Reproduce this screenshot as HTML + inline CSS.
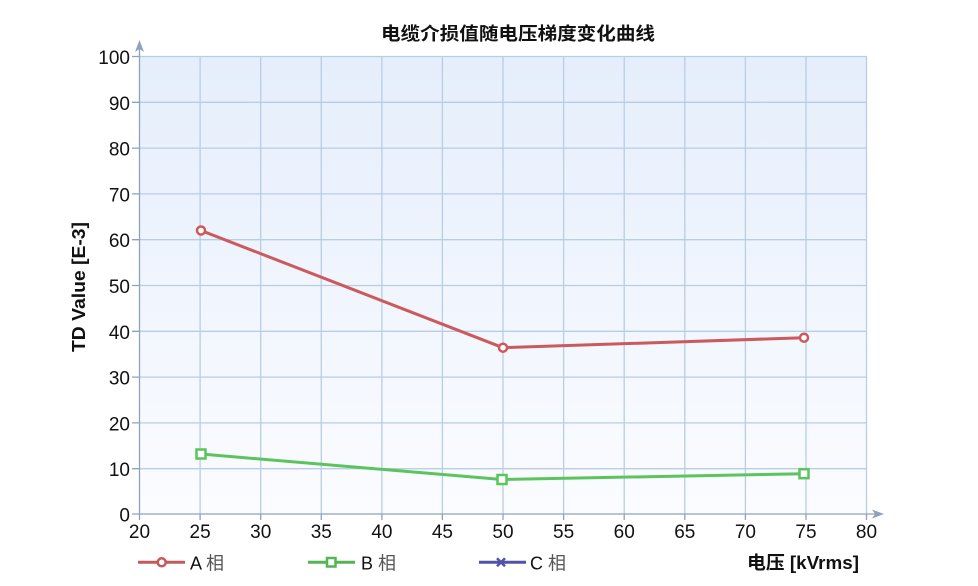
<!DOCTYPE html>
<html><head><meta charset="utf-8"><style>
html,body{margin:0;padding:0;background:#fff;}
svg{display:block;}
text{font-family:"Liberation Sans","Noto Sans CJK SC",sans-serif;}
</style></head><body>
<svg width="978" height="586" viewBox="0 0 978 586" xmlns="http://www.w3.org/2000/svg">
<defs>
<linearGradient id="bg" x1="0" y1="0" x2="0" y2="1">
<stop offset="0" stop-color="#e5eefc"/>
<stop offset="1" stop-color="#fbfcff"/>
</linearGradient>
</defs>
<rect x="139.5" y="56" width="727" height="458" fill="url(#bg)"/>
<g stroke="#b9cde3" stroke-width="1.3" fill="none">
<path d="M139.5 56.5H866.5M139.5 102.3H866.5M139.5 148.1H866.5M139.5 193.9H866.5M139.5 239.7H866.5M139.5 285.5H866.5M139.5 331.3H866.5M139.5 377.1H866.5M139.5 422.9H866.5M139.5 468.7H866.5"/>
<path d="M200.1 56V514M260.7 56V514M321.3 56V514M381.9 56V514M442.4 56V514M503 56V514M563.6 56V514M624.2 56V514M684.8 56V514M745.4 56V514M806 56V514M866.5 56V514"/>
</g>
<g stroke="#8ea3bb" stroke-width="1.3" fill="none">
<path d="M139.5 46V514M139.5 514H876"/>
<path d="M132 56.5H139.5M132 102.3H139.5M132 148.1H139.5M132 193.9H139.5M132 239.7H139.5M132 285.5H139.5M132 331.3H139.5M132 377.1H139.5M132 422.9H139.5M132 468.7H139.5M132 514H139.5"/>
<path d="M139.5 514V520M200.1 514V520M260.7 514V520M321.3 514V520M381.9 514V520M442.4 514V520M503 514V520M563.6 514V520M624.2 514V520M684.8 514V520M745.4 514V520M806 514V520M866.5 514V520"/>
</g>
<path d="M139.5 40L144 52L139.5 49L135 52Z" fill="#8ea3bb"/>
<path d="M884 514L872 509.5L875 514L872 518.5Z" fill="#8ea3bb"/>
<g font-size="19" fill="#111" text-anchor="end">
<text x="130" y="64">100</text>
<text x="130" y="109.8">90</text>
<text x="130" y="155.6">80</text>
<text x="130" y="201.4">70</text>
<text x="130" y="247.2">60</text>
<text x="130" y="293">50</text>
<text x="130" y="338.8">40</text>
<text x="130" y="384.6">30</text>
<text x="130" y="430.4">20</text>
<text x="130" y="476.2">10</text>
<text x="130" y="521.5">0</text>
</g>
<g font-size="19" fill="#111" text-anchor="middle">
<text x="139.5" y="538">20</text>
<text x="200.1" y="538">25</text>
<text x="260.7" y="538">30</text>
<text x="321.3" y="538">35</text>
<text x="381.9" y="538">40</text>
<text x="442.4" y="538">45</text>
<text x="503" y="538">50</text>
<text x="563.6" y="538">55</text>
<text x="624.2" y="538">60</text>
<text x="684.8" y="538">65</text>
<text x="745.4" y="538">70</text>
<text x="806" y="538">75</text>
<text x="866.5" y="538">80</text>
</g>
<text x="381" y="40" font-size="18" font-weight="bold" fill="#111" textLength="274" lengthAdjust="spacingAndGlyphs">电缆介损值随电压梯度变化曲线</text>
<text transform="translate(85,352) rotate(-90)" font-size="18" font-weight="bold" fill="#111" textLength="130" lengthAdjust="spacingAndGlyphs">TD Value [E-3]</text>
<text x="747" y="569" font-size="18" font-weight="bold" fill="#111" textLength="112" lengthAdjust="spacingAndGlyphs">电压 [kVrms]</text>
<!-- Series A -->
<polyline points="201,230.5 503,347.7 804,337.7" fill="none" stroke="#cc5a5c" stroke-width="3" stroke-linejoin="round"/>
<g fill="#fff" stroke="#cc5a5c" stroke-width="2.5">
<circle cx="201" cy="230.5" r="4"/>
<circle cx="503" cy="347.7" r="4"/>
<circle cx="804" cy="337.7" r="4"/>
</g>
<!-- Series B -->
<polyline points="201,454 502,479.5 804,473.7" fill="none" stroke="#5cc45c" stroke-width="3" stroke-linejoin="round"/>
<g fill="#fff" stroke="#5cc45c" stroke-width="2.5">
<rect x="196.5" y="449.5" width="9" height="9"/>
<rect x="497.5" y="475" width="9" height="9"/>
<rect x="799.5" y="469.2" width="9" height="9"/>
</g>
<!-- Legend -->
<line x1="138" y1="562.3" x2="185" y2="562.3" stroke="#c45a5c" stroke-width="3"/>
<circle cx="161.7" cy="562.3" r="4" fill="#fff" stroke="#c45a5c" stroke-width="2.5"/>
<text x="190" y="569.5" font-size="18" fill="#111">A <tspan fill="#555">相</tspan></text>
<line x1="308" y1="562.3" x2="355" y2="562.3" stroke="#55b455" stroke-width="3"/>
<rect x="327" y="558" width="8.5" height="8.5" fill="#fff" stroke="#55b455" stroke-width="2.5"/>
<text x="361" y="569.5" font-size="18" fill="#111">B <tspan fill="#555">相</tspan></text>
<line x1="479" y1="562.3" x2="526" y2="562.3" stroke="#5252a8" stroke-width="3"/>
<path d="M497 558.3L505 566.3M505 558.3L497 566.3" stroke="#5252a8" stroke-width="2.5"/>
<text x="530" y="569.5" font-size="18" fill="#111">C <tspan fill="#555">相</tspan></text>
</svg>
</body></html>
